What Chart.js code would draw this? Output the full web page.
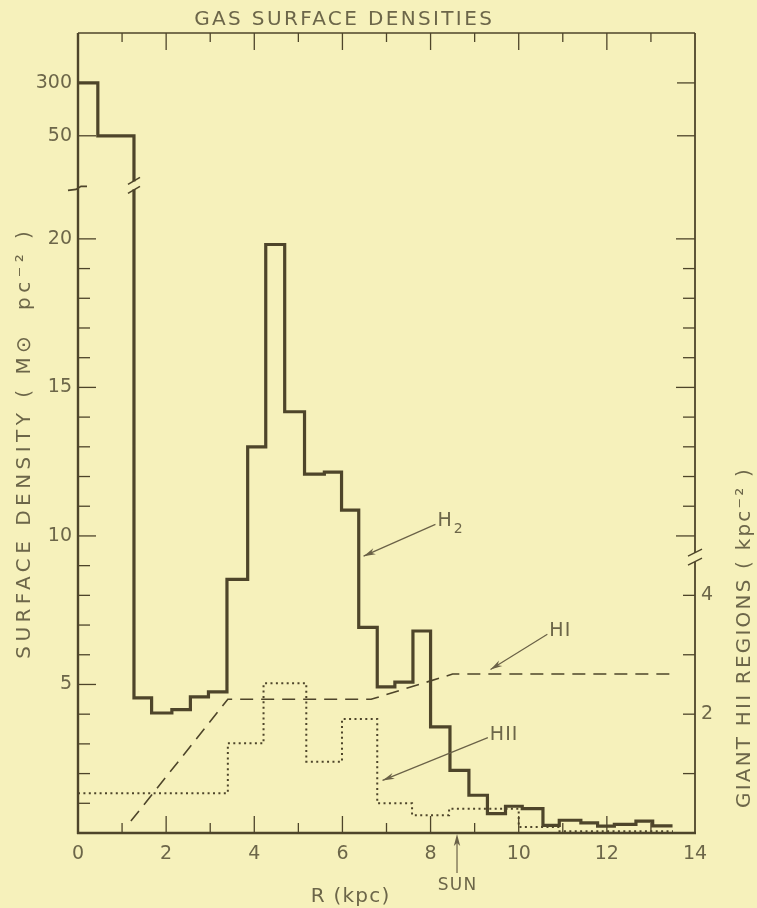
<!DOCTYPE html>
<html><head><meta charset="utf-8">
<script src="https://cdn.jsdelivr.net/npm/chart.js@4.4.1/dist/chart.umd.min.js"></script>
<style>html,body{margin:0;padding:0;background:#f6f1bb;}canvas{display:block;}</style>
</head><body>
<canvas id="c" width="757" height="908"></canvas>
<script>
// ---------------- data ----------------
// H2 histogram: bin edges (kpc) and surface densities (Msun pc^-2)
const h2Edges  = [0, 0.45, 1.27, 1.67, 2.13, 2.55, 2.96, 3.38, 3.85, 4.26, 4.69, 5.14, 5.59, 5.98, 6.37, 6.79, 7.19, 7.6, 8.0, 8.44, 8.87, 9.29, 9.7, 10.08, 10.55, 10.92, 11.41, 11.79, 12.17, 12.66, 13.04, 13.49];
const h2Values = [300, 50, 4.55, 4.04, 4.15, 4.58, 4.75, 8.54, 13.0, 19.81, 14.18, 12.08, 12.15, 10.87, 6.92, 4.92, 5.08, 6.8, 3.57, 2.11, 1.27, 0.65, 0.9, 0.82, 0.26, 0.43, 0.34, 0.23, 0.29, 0.4, 0.24];
// HI (dashed)
const hiR      = [1.2, 3.4, 6.65, 8.5, 13.45];
const hiValues = [0.4, 4.5, 4.5, 5.35, 5.35];
// Giant HII regions (dotted, kpc^-2, right axis)
const hiiEdges  = [0, 3.4, 4.21, 5.18, 5.99, 6.79, 7.58, 8.42, 10.0, 10.9, 13.5];
const hiiValues = [0.67, 1.51, 2.52, 1.2, 1.92, 0.5, 0.3, 0.41, 0.1, 0.03];
// tick labels
const xTickValues  = [0, 2, 4, 6, 8, 10, 12, 14];
const xTickLabels  = ['0', '2', '4', '6', '8', '10', '12', '14'];
const yTickValues  = [5, 10, 15, 20, 50, 300];
const yTickLabels  = ['5', '10', '15', '20', '50', '300'];
const y2TickValues = [2, 4];
const y2TickLabels = ['2', '4'];
const sunR = 8.6;
// annotation arrows (data coords on left axis): label start -> arrow tip
const notes = [
  {text: 'H', sub: '2', from: [8.11, 10.39], to: [6.48, 9.32]},
  {text: 'HI', sub: '', from: [10.65, 6.69], to: [9.36, 5.5]},
  {text: 'HII', sub: '', from: [9.3, 3.21], to: [6.91, 1.77]}
];

// ---------------- broken axis ----------------
const Y_MAX = 26.93;                 // axis units at plot top
const HII_FACTOR = 2;                // 1 kpc^-2 on right axis = 2 units on left axis
const BREAK_LEFT = 21.8;             // where the left axis (and H2 line) is broken
const BREAK_RIGHT = 9.29;            // where the right axis is broken (left units)
const brokenAnchors = [[20, 20], [50, 23.47], [300, 25.25]];
function fwd(v) {
  if (v <= brokenAnchors[0][0]) return v;
  for (let i = 1; i < brokenAnchors.length; i++) {
    const [v0, p0] = brokenAnchors[i - 1], [v1, p1] = brokenAnchors[i];
    if (v <= v1 || i === brokenAnchors.length - 1) {
      const t = (Math.log(v) - Math.log(v0)) / (Math.log(v1) - Math.log(v0));
      return p0 + t * (p1 - p0);
    }
  }
}

const BG = '#f6f1bb', INK = '#4e452a', TXT = '#6c6649', THIN = '#6a6147';
const FONT = '"DejaVu Sans", sans-serif';

function stepData(edges, vals, f) {
  return edges.map((x, i) => ({x, y: f(vals[Math.min(i, vals.length - 1)])}));
}

function fitText(g, text, cx, cy, width, angle) {
  g.save();
  g.translate(cx, cy);
  if (angle) g.rotate(angle);
  g.letterSpacing = '0px';
  const w0 = g.measureText(text).width;
  const n = Array.from(text).length;
  const ls = Math.max(0, (width - w0) / n);
  g.letterSpacing = ls + 'px';
  g.textAlign = 'center';
  g.textBaseline = 'middle';
  g.fillText(text, ls / 2, 0);
  g.restore();
}
function spacedText(g, text, x, y, ls, angle) {
  g.save();
  g.translate(x, y);
  if (angle) g.rotate(angle);
  g.letterSpacing = ls + 'px';
  g.textAlign = 'left';
  g.textBaseline = 'middle';
  g.fillText(text, 0, 0);
  g.restore();
}

const decor = {
  id: 'decor',
  beforeDraw(c) {
    const g = c.ctx; g.save(); g.fillStyle = BG; g.fillRect(0, 0, c.width, c.height); g.restore();
  },
  afterDatasetsDraw(c) {
    const g = c.ctx, a = c.chartArea, xs = c.scales.x, ys = c.scales.y, y2 = c.scales.y2;
    const X = v => xs.getPixelForValue(v), Y = v => ys.getPixelForValue(v), Y2 = v => y2.getPixelForValue(v);
    const line = (x1, y1, x2, y2_, w) => { g.lineWidth = w; g.beginPath(); g.moveTo(x1, y1); g.lineTo(x2, y2_); g.stroke(); };
    g.save();
    g.strokeStyle = INK; g.fillStyle = INK; g.lineCap = 'butt';

    // H2 line break at the drop from 50
    const bx = X(h2Edges[2]), by = Y(BREAK_LEFT);
    g.fillStyle = BG; g.fillRect(bx - 4, by - 4, 8, 8); g.fillStyle = INK;
    line(bx - 6, by - 1, bx + 6, by - 8, 1.6);
    line(bx - 6, by + 8, bx + 6, by + 1, 1.6);

    // frame
    line(a.left, a.top, a.left, a.bottom + 1, 2.4);
    line(a.left - 1, a.bottom, a.right + 1, a.bottom, 2.6);
    line(a.left, a.top, a.right, a.top, 1.4);
    const rbY = Y(BREAK_RIGHT);
    line(a.right, a.top, a.right, rbY - 4, 1.8);
    line(a.right, rbY + 5, a.right, a.bottom, 1.8);
    line(a.right - 7, rbY - 1, a.right + 7, rbY - 8, 1.4);
    line(a.right - 7, rbY + 8, a.right + 7, rbY + 1, 1.4);
    // left axis break mark
    const lb = Y(BREAK_LEFT) + 3;
    g.lineWidth = 1.6; g.beginPath();
    g.moveTo(a.left - 10, lb + 2); g.lineTo(a.left - 2, lb + 1); g.lineTo(a.left + 3, lb - 2); g.lineTo(a.left + 9, lb - 2); g.stroke();

    // x ticks (bottom & top, inward)
    for (let k = 1; k <= 13; k++) {
      const px = X(k);
      line(px, a.bottom, px, a.bottom - (k % 2 === 0 ? 17 : 10), 1.3);
      line(px, a.top, px, a.top + (k % 2 === 0 ? 17 : 9), 1.3);
    }
    // left ticks
    for (let v = 1; v <= 20; v++) line(a.left, Y(v), a.left + (v % 5 === 0 ? 18 : 12), Y(v), 1.3);
    [50, 300].forEach(v => line(a.left, Y(fwd(v)), a.left + 18, Y(fwd(v)), 1.3));
    // right ticks: upper part mirrors left axis, lower part is HII scale
    for (let v = 10; v <= 20; v++) line(a.right, Y(v), a.right - (v % 5 === 0 ? 19 : 12), Y(v), 1.3);
    [50, 300].forEach(v => line(a.right, Y(fwd(v)), a.right - 18, Y(fwd(v)), 1.3));
    for (let h = 1; h <= 4; h++) line(a.right, Y2(h), a.right - 12, Y2(h), 1.3);

    // annotation arrows
    g.strokeStyle = THIN; g.fillStyle = THIN;
    notes.forEach(n => {
      const x1 = X(n.from[0]), y1 = Y(n.from[1]), x2 = X(n.to[0]), y2p = Y(n.to[1]);
      line(x1, y1, x2, y2p, 1.2);
      const ang = Math.atan2(y2p - y1, x2 - x1), L = 12, W = 3.2;
      g.beginPath();
      g.moveTo(x2, y2p);
      g.lineTo(x2 - L * Math.cos(ang) + W * Math.sin(ang), y2p - L * Math.sin(ang) - W * Math.cos(ang));
      g.lineTo(x2 - L * 0.7 * Math.cos(ang), y2p - L * 0.7 * Math.sin(ang));
      g.lineTo(x2 - L * Math.cos(ang) - W * Math.sin(ang), y2p - L * Math.sin(ang) + W * Math.cos(ang));
      g.closePath(); g.fill();
      g.fillStyle = TXT;
      g.font = '19px ' + FONT; g.textAlign = 'left'; g.textBaseline = 'middle';
      g.letterSpacing = '1px';
      g.fillText(n.text, x1 + 2, y1 - 3);
      if (n.sub) {
        const w = g.measureText(n.text).width;
        g.font = '14px ' + FONT;
        g.fillText(n.sub, x1 + 3 + w, y1 + 5);
      }
      g.fillStyle = THIN;
    });

    // SUN arrow
    const sx = X(sunR);
    g.strokeStyle = THIN; g.fillStyle = THIN;
    line(sx, a.bottom + 40, sx, a.bottom + 6, 1.2);
    g.beginPath(); g.moveTo(sx, a.bottom + 1); g.lineTo(sx - 3.2, a.bottom + 13); g.lineTo(sx, a.bottom + 10); g.lineTo(sx + 3.2, a.bottom + 13); g.closePath(); g.fill();

    // texts
    g.fillStyle = TXT;
    g.font = '17px ' + FONT;
    fitText(g, 'SUN', sx, a.bottom + 53, 40, 0);
    g.font = '20px ' + FONT;
    fitText(g, 'GAS SURFACE DENSITIES', 343, 20, 300, 0);
    fitText(g, 'R (kpc)', 350, 897, 80, 0);
    fitText(g, 'SURFACE DENSITY ( M\u2299  pc\u207B\u00B2 )', 25, 445, 432, -Math.PI / 2);
    spacedText(g, 'GIANT HII REGIONS ( kpc\u207B\u00B2 )', 745, 808, 2.2, -Math.PI / 2);
    g.restore();
  }
};

const tickFont = {family: FONT, size: 19};
new Chart(document.getElementById('c').getContext('2d'), {
  type: 'line',
  data: {datasets: [
    {label: 'H2', data: stepData(h2Edges, h2Values, fwd), stepped: 'before', borderColor: INK, borderWidth: 3.2, pointRadius: 0, yAxisID: 'y', fill: false},
    {label: 'HI', data: hiR.map((x, i) => ({x, y: hiValues[i]})), borderColor: INK, borderWidth: 1.6, borderDash: [13, 8], pointRadius: 0, yAxisID: 'y', fill: false},
    {label: 'HII', data: stepData(hiiEdges, hiiValues, v => v), stepped: 'before', borderColor: INK, borderWidth: 2, borderDash: [2, 3.4], pointRadius: 0, yAxisID: 'y2', fill: false}
  ]},
  options: {
    responsive: false, animation: false, devicePixelRatio: 1,
    layout: {padding: {top: 33, left: 0, right: 0, bottom: 0}},
    plugins: {legend: {display: false}, tooltip: {enabled: false}},
    scales: {
      x: {type: 'linear', min: 0, max: 14, position: 'bottom',
        grid: {display: false, drawTicks: false}, border: {display: false},
        afterBuildTicks: s => { s.ticks = xTickValues.map(v => ({value: v})); },
        ticks: {autoSkip: false, maxRotation: 0, padding: 10, color: TXT, font: tickFont, callback: (v, i) => xTickLabels[i]},
        afterFit: s => { s.height = 75; }},
      y: {type: 'linear', min: 0, max: Y_MAX, position: 'left',
        grid: {display: false, drawTicks: false}, border: {display: false},
        afterBuildTicks: s => { s.ticks = yTickValues.map(v => ({value: fwd(v)})); },
        ticks: {autoSkip: false, padding: 6, color: TXT, font: tickFont, callback: (v, i) => yTickLabels[i]},
        afterFit: s => { s.width = 78; }},
      y2: {type: 'linear', min: 0, max: Y_MAX / HII_FACTOR, position: 'right',
        grid: {display: false, drawTicks: false}, border: {display: false},
        afterBuildTicks: s => { s.ticks = y2TickValues.map(v => ({value: v})); },
        ticks: {autoSkip: false, padding: 6, color: TXT, font: tickFont, callback: (v, i) => y2TickLabels[i]},
        afterFit: s => { s.width = 62; }}
    }
  },
  plugins: [decor]
});
</script>
</body></html>
